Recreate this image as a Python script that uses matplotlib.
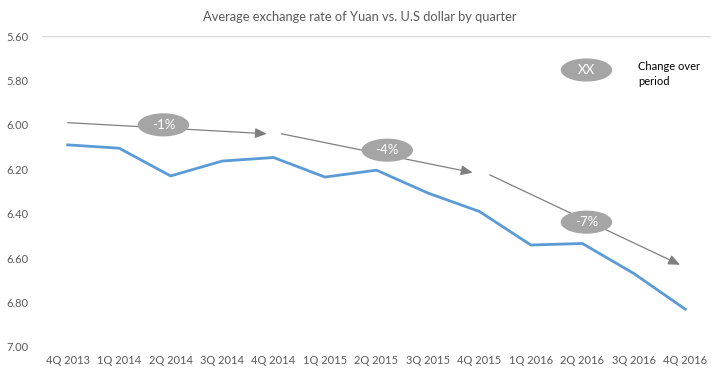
import matplotlib
matplotlib.use("Agg")
from matplotlib import pyplot as plt
from matplotlib.patches import Ellipse

quarters = ["4Q 2013", "1Q 2014", "2Q 2014", "3Q 2014", "4Q 2014", "1Q 2015", "2Q 2015",
            "3Q 2015", "4Q 2015", "1Q 2016", "2Q 2016", "3Q 2016", "4Q 2016"]
rate = [6.09, 6.105, 6.23, 6.163, 6.147, 6.235, 6.204, 6.307, 6.39, 6.541, 6.534, 6.669, 6.83]

# trend arrows: (x0, y0, x1, y1) in category units / rate
trend_segments = [(0.0, 5.99, 3.87, 6.04), (4.15, 6.04, 7.87, 6.215), (8.2, 6.225, 11.9, 6.63)]
change_labels = ["-1%", "-4%", "-7%"]
label_pos = [(1.86, 6.0), (6.21, 6.114), (10.08, 6.438)]

yticks = [5.6, 5.8, 6.0, 6.2, 6.4, 6.6, 6.8, 7.0]

plt.rcParams["font.family"] = ["Lato", "DejaVu Sans"]

BLUE = "#5B9BD5"
GREY = "#A5A5A5"
TEXT = "#595959"

fig = plt.figure(figsize=(7.2, 3.74), dpi=100)
ax = fig.add_axes([0.0583, 0.0722, 0.9292, 0.8315])

x = list(range(len(quarters)))
ax.plot(x, rate, color=BLUE, lw=2, solid_joinstyle="round")

# Trend arrows
for x0, y0, x1, y1 in trend_segments:
    ax.annotate("", xy=(x1, y1), xytext=(x0, y0),
                arrowprops=dict(arrowstyle="-|>,head_length=0.7,head_width=0.3",
                                color="#7F7F7F", lw=0.9, shrinkA=0, shrinkB=0))

# Change bubbles
for label, (cx, cy) in zip(change_labels, label_pos):
    ax.add_patch(Ellipse((cx, cy), 1.0, 0.104, facecolor=GREY, edgecolor="none", zorder=3))
    ax.text(cx, cy, label, color="white", fontsize=9.5, ha="center", va="center", zorder=4)

# Legend bubble
ax.add_patch(Ellipse((10.08, 5.753), 1.0, 0.104, facecolor=GREY, edgecolor="none", zorder=3))
ax.text(10.08, 5.753, "XX", color="white", fontsize=9.5, ha="center", va="center", zorder=4)
ax.text(11.09, 5.77, "Change over\nperiod", color="black", fontsize=8, ha="left", va="center",
        linespacing=1.5)

ax.set_xlim(-0.5, len(quarters) - 0.5)
ax.set_ylim(7.0, 5.6)
ax.set_yticks(yticks)
ax.set_yticklabels([f"{v:.2f}" for v in yticks])
ax.set_xticks(x)
ax.set_xticklabels(quarters)
ax.tick_params(length=0, colors=TEXT, labelsize=8)
ax.tick_params(axis="y", pad=10)
ax.tick_params(axis="x", pad=6)

for s in ax.spines.values():
    s.set_visible(False)
ax.axhline(5.6, color="#D9D9D9", lw=1)

fig.text(0.5, 0.955, "Average exchange rate of Yuan vs. U.S dollar by quarter",
         ha="center", va="center", color=TEXT, fontsize=9.3)

fig.savefig("out.png", dpi=100)
